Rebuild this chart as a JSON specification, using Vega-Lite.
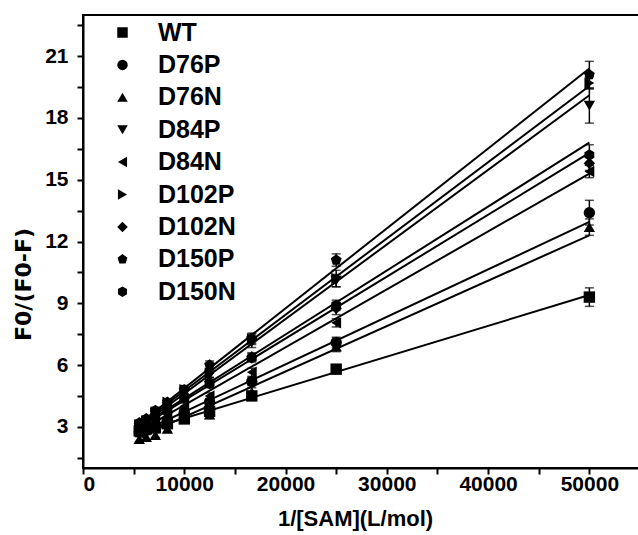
{
  "$schema": "https://vega.github.io/schema/vega-lite/v6.json",
  "width": 557,
  "height": 453,
  "autosize": {"type": "none"},
  "padding": {"left": 83, "top": 15, "right": 0, "bottom": 67},
  "background": "white",
  "config": {
    "font": "Liberation Sans",
    "view": {"stroke": "black", "strokeWidth": 2},
    "axis": {
      "grid": false,
      "domainColor": "black",
      "domainWidth": 2,
      "tickColor": "black",
      "tickWidth": 2,
      "tickSize": 6,
      "labelOverlap": false,
      "labelFont": "Liberation Sans",
      "labelFontWeight": "bold",
      "labelFontSize": 21,
      "labelColor": "black",
      "titleFont": "Liberation Sans",
      "titleFontWeight": "bold",
      "titleFontSize": 22,
      "titleColor": "black"
    }
  },
  "resolve": {"axis": {"x": "independent", "y": "independent"}},
  "datasets": {
    "fits": [
      {"series": "WT", "x": 5556, "y": 2.75}, {"series": "WT", "x": 50000, "y": 9.4},
      {"series": "D76P", "x": 5556, "y": 2.7}, {"series": "D76P", "x": 50000, "y": 12.95},
      {"series": "D76N", "x": 5556, "y": 2.5}, {"series": "D76N", "x": 50000, "y": 12.3},
      {"series": "D84P", "x": 5556, "y": 3.0}, {"series": "D84P", "x": 50000, "y": 19.1},
      {"series": "D84N", "x": 5556, "y": 2.8}, {"series": "D84N", "x": 50000, "y": 15.3},
      {"series": "D102P", "x": 5556, "y": 3.1}, {"series": "D102P", "x": 50000, "y": 19.55},
      {"series": "D102N", "x": 5556, "y": 2.95}, {"series": "D102N", "x": 50000, "y": 16.3},
      {"series": "D150P", "x": 5556, "y": 3.15}, {"series": "D150P", "x": 50000, "y": 20.4},
      {"series": "D150N", "x": 5556, "y": 3.0}, {"series": "D150N", "x": 50000, "y": 16.8}
    ],
    "pts": [
      {"series": "WT", "x": 5556, "y": 2.8, "lo": 2.7, "hi": 2.9},
      {"series": "WT", "x": 6250, "y": 2.9, "lo": 2.8, "hi": 3.0},
      {"series": "WT", "x": 7143, "y": 2.95, "lo": 2.85, "hi": 3.05},
      {"series": "WT", "x": 8333, "y": 3.15, "lo": 3.03, "hi": 3.27},
      {"series": "WT", "x": 10000, "y": 3.4, "lo": 3.28, "hi": 3.52},
      {"series": "WT", "x": 12500, "y": 3.75, "lo": 3.6, "hi": 3.9},
      {"series": "WT", "x": 16667, "y": 4.5, "lo": 4.3, "hi": 4.7},
      {"series": "WT", "x": 25000, "y": 5.8, "lo": 5.6, "hi": 6.0},
      {"series": "WT", "x": 50000, "y": 9.3, "lo": 8.85, "hi": 9.75},
      {"series": "D76P", "x": 5556, "y": 2.75, "lo": 2.65, "hi": 2.85},
      {"series": "D76P", "x": 6250, "y": 2.85, "lo": 2.75, "hi": 2.95},
      {"series": "D76P", "x": 7143, "y": 3.0, "lo": 2.9, "hi": 3.1},
      {"series": "D76P", "x": 8333, "y": 3.3, "lo": 3.2, "hi": 3.4},
      {"series": "D76P", "x": 10000, "y": 3.7, "lo": 3.55, "hi": 3.85},
      {"series": "D76P", "x": 12500, "y": 4.2, "lo": 4.05, "hi": 4.35},
      {"series": "D76P", "x": 16667, "y": 5.2, "lo": 5.0, "hi": 5.4},
      {"series": "D76P", "x": 25000, "y": 7.1, "lo": 6.85, "hi": 7.35},
      {"series": "D76P", "x": 50000, "y": 13.4, "lo": 12.8, "hi": 14.0},
      {"series": "D76N", "x": 5556, "y": 2.4, "lo": 2.28, "hi": 2.52},
      {"series": "D76N", "x": 6250, "y": 2.5, "lo": 2.38, "hi": 2.62},
      {"series": "D76N", "x": 7143, "y": 2.6, "lo": 2.48, "hi": 2.72},
      {"series": "D76N", "x": 8333, "y": 2.9, "lo": 2.75, "hi": 3.05},
      {"series": "D76N", "x": 10000, "y": 3.35, "lo": 3.2, "hi": 3.5},
      {"series": "D76N", "x": 12500, "y": 3.6, "lo": 3.4, "hi": 3.8},
      {"series": "D76N", "x": 16667, "y": 4.7, "lo": 4.5, "hi": 4.9},
      {"series": "D76N", "x": 25000, "y": 6.9, "lo": 6.65, "hi": 7.15},
      {"series": "D76N", "x": 50000, "y": 12.7, "lo": 12.3, "hi": 13.1},
      {"series": "D84P", "x": 5556, "y": 2.95, "lo": 2.85, "hi": 3.05},
      {"series": "D84P", "x": 6250, "y": 3.2, "lo": 3.1, "hi": 3.3},
      {"series": "D84P", "x": 7143, "y": 3.55, "lo": 3.43, "hi": 3.67},
      {"series": "D84P", "x": 8333, "y": 3.95, "lo": 3.8, "hi": 4.1},
      {"series": "D84P", "x": 10000, "y": 4.65, "lo": 4.5, "hi": 4.8},
      {"series": "D84P", "x": 12500, "y": 5.5, "lo": 5.3, "hi": 5.7},
      {"series": "D84P", "x": 16667, "y": 7.1, "lo": 6.85, "hi": 7.35},
      {"series": "D84P", "x": 25000, "y": 10.1, "lo": 9.8, "hi": 10.4},
      {"series": "D84P", "x": 50000, "y": 18.6, "lo": 17.75, "hi": 19.45},
      {"series": "D84N", "x": 5556, "y": 2.7, "lo": 2.6, "hi": 2.8},
      {"series": "D84N", "x": 6250, "y": 2.9, "lo": 2.8, "hi": 3.0},
      {"series": "D84N", "x": 7143, "y": 3.1, "lo": 3.0, "hi": 3.2},
      {"series": "D84N", "x": 8333, "y": 3.5, "lo": 3.38, "hi": 3.62},
      {"series": "D84N", "x": 10000, "y": 4.0, "lo": 3.85, "hi": 4.15},
      {"series": "D84N", "x": 12500, "y": 4.5, "lo": 4.35, "hi": 4.65},
      {"series": "D84N", "x": 16667, "y": 5.65, "lo": 5.45, "hi": 5.85},
      {"series": "D84N", "x": 25000, "y": 8.05, "lo": 7.85, "hi": 8.25},
      {"series": "D84N", "x": 50000, "y": 15.4, "lo": 15.1, "hi": 15.7},
      {"series": "D102P", "x": 5556, "y": 3.1, "lo": 3.0, "hi": 3.2},
      {"series": "D102P", "x": 6250, "y": 3.3, "lo": 3.2, "hi": 3.4},
      {"series": "D102P", "x": 7143, "y": 3.7, "lo": 3.58, "hi": 3.82},
      {"series": "D102P", "x": 8333, "y": 4.2, "lo": 4.05, "hi": 4.35},
      {"series": "D102P", "x": 10000, "y": 4.8, "lo": 4.6, "hi": 5.0},
      {"series": "D102P", "x": 12500, "y": 5.6, "lo": 5.4, "hi": 5.8},
      {"series": "D102P", "x": 16667, "y": 7.25, "lo": 7.0, "hi": 7.5},
      {"series": "D102P", "x": 25000, "y": 10.2, "lo": 9.8, "hi": 10.6},
      {"series": "D102P", "x": 50000, "y": 19.7, "lo": 19.4, "hi": 20.0},
      {"series": "D102N", "x": 5556, "y": 2.9, "lo": 2.8, "hi": 3.0},
      {"series": "D102N", "x": 6250, "y": 3.1, "lo": 3.0, "hi": 3.2},
      {"series": "D102N", "x": 7143, "y": 3.35, "lo": 3.23, "hi": 3.47},
      {"series": "D102N", "x": 8333, "y": 3.75, "lo": 3.6, "hi": 3.9},
      {"series": "D102N", "x": 10000, "y": 4.4, "lo": 4.25, "hi": 4.55},
      {"series": "D102N", "x": 12500, "y": 5.2, "lo": 5.0, "hi": 5.4},
      {"series": "D102N", "x": 16667, "y": 6.4, "lo": 6.2, "hi": 6.6},
      {"series": "D102N", "x": 25000, "y": 8.75, "lo": 8.45, "hi": 9.05},
      {"series": "D102N", "x": 50000, "y": 15.8, "lo": 15.45, "hi": 16.15},
      {"series": "D150P", "x": 5556, "y": 3.2, "lo": 3.08, "hi": 3.32},
      {"series": "D150P", "x": 6250, "y": 3.4, "lo": 3.28, "hi": 3.52},
      {"series": "D150P", "x": 7143, "y": 3.8, "lo": 3.65, "hi": 3.95},
      {"series": "D150P", "x": 8333, "y": 4.2, "lo": 4.05, "hi": 4.35},
      {"series": "D150P", "x": 10000, "y": 4.8, "lo": 4.6, "hi": 5.0},
      {"series": "D150P", "x": 12500, "y": 6.0, "lo": 5.8, "hi": 6.2},
      {"series": "D150P", "x": 16667, "y": 7.3, "lo": 7.05, "hi": 7.55},
      {"series": "D150P", "x": 25000, "y": 11.1, "lo": 10.8, "hi": 11.4},
      {"series": "D150P", "x": 50000, "y": 20.1, "lo": 19.45, "hi": 20.75},
      {"series": "D150N", "x": 5556, "y": 3.05, "lo": 2.95, "hi": 3.15},
      {"series": "D150N", "x": 6250, "y": 3.3, "lo": 3.2, "hi": 3.4},
      {"series": "D150N", "x": 7143, "y": 3.5, "lo": 3.38, "hi": 3.62},
      {"series": "D150N", "x": 8333, "y": 3.8, "lo": 3.68, "hi": 3.92},
      {"series": "D150N", "x": 10000, "y": 4.4, "lo": 4.25, "hi": 4.55},
      {"series": "D150N", "x": 12500, "y": 5.1, "lo": 4.9, "hi": 5.3},
      {"series": "D150N", "x": 16667, "y": 6.35, "lo": 6.15, "hi": 6.55},
      {"series": "D150N", "x": 25000, "y": 8.9, "lo": 8.65, "hi": 9.15},
      {"series": "D150N", "x": 50000, "y": 16.2, "lo": 15.7, "hi": 16.7}
    ]
  },
  "layer": [
    {
      "data": {"name": "fits"},
      "mark": {"type": "line", "color": "black", "strokeWidth": 2},
      "encoding": {
        "x": {
          "field": "x", "type": "quantitative",
          "scale": {"domain": [0, 55000], "nice": false, "zero": false},
          "axis": {
            "orient": "bottom",
            "title": null,
            "labels": false,
            "values": [0, 5000, 10000, 15000, 20000, 25000, 30000, 35000, 40000, 45000, 50000, 55000]
          }
        },
        "y": {
          "field": "y", "type": "quantitative",
          "scale": {"domain": [1, 23], "nice": false, "zero": false},
          "axis": {
            "orient": "left",
            "title": null,
            "labels": false,
            "values": [1.5, 3, 4.5, 6, 7.5, 9, 10.5, 12, 13.5, 15, 16.5, 18, 19.5, 21, 22.5]
          }
        },
        "detail": {"field": "series"}
      }
    },
    {
      "data": {"name": "pts"},
      "mark": {"type": "errorbar", "color": "black", "thickness": 1.5, "ticks": {"size": 9, "thickness": 1.5}},
      "encoding": {
        "x": {"field": "x", "type": "quantitative", "axis": null},
        "y": {"field": "lo", "type": "quantitative", "axis": null},
        "y2": {"field": "hi"}
      }
    },
    {
      "data": {"name": "pts"},
      "mark": {"type": "point", "filled": true, "color": "black", "size": 130, "opacity": 1},
      "encoding": {
        "x": {
          "field": "x", "type": "quantitative",
          "axis": {
            "orient": "bottom",
            "title": "1/[SAM](L/mol)",
            "values": [0, 10000, 20000, 30000, 40000, 50000],
            "format": "d",
            "domain": false,
            "ticks": false,
            "labelPadding": 5,
            "titlePadding": 14,
            "titleX": 272
          }
        },
        "y": {
          "field": "y", "type": "quantitative",
          "axis": {
            "orient": "left",
            "title": "F0/(F0-F)",
            "titleFont": "DejaVu Sans",
            "values": [3, 6, 9, 12, 15, 18, 21],
            "format": "d",
            "domain": false,
            "ticks": false,
            "labelPadding": 15,
            "titlePadding": 9,
            "titleY": 269
          }
        },
        "shape": {
          "field": "series", "type": "nominal",
          "scale": {
            "domain": ["WT", "D76P", "D76N", "D84P", "D84N", "D102P", "D102N", "D150P", "D150N"],
            "range": ["square", "circle", "triangle-up", "triangle-down", "triangle-left", "triangle-right", "diamond",
              "M0,-1L0.951,-0.309L0.588,0.809L-0.588,0.809L-0.951,-0.309Z",
              "M0,-1L0.866,-0.5L0.866,0.5L0,1L-0.866,0.5L-0.866,-0.5Z"]
          },
          "legend": {
            "orient": "none",
            "legendX": 27,
            "legendY": 5,
            "title": null,
            "labelFont": "Liberation Sans",
            "labelFontSize": 25,
            "labelFontWeight": "bold",
            "labelColor": "black",
            "labelOffset": 23,
            "rowPadding": 6.4,
            "symbolSize": 110,
            "symbolFillColor": "black",
            "symbolStrokeColor": "black",
            "symbolStrokeWidth": 0,
            "symbolOpacity": 1
          }
        }
      }
    }
  ]
}
